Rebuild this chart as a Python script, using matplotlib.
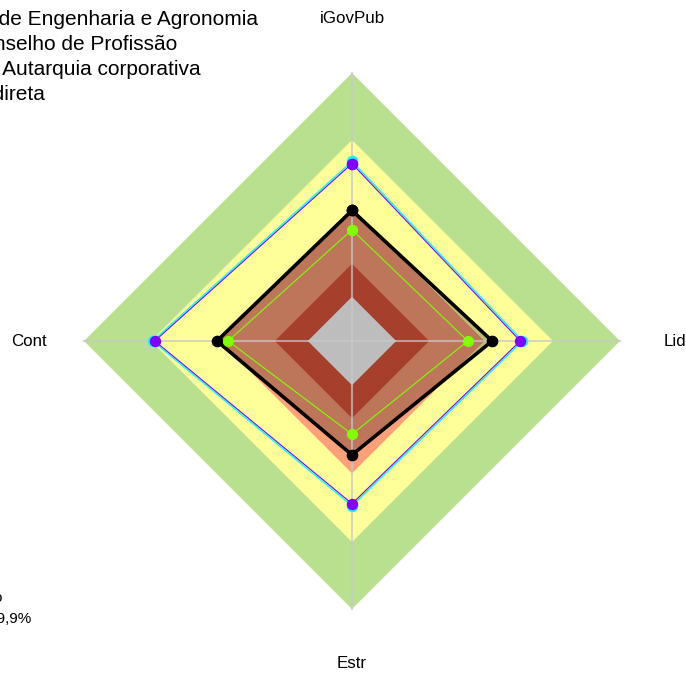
import numpy as np
import matplotlib
matplotlib.use("Agg")
import matplotlib.pyplot as plt

plt.rcParams['font.family'] = ['Liberation Sans', 'DejaVu Sans']

# ---- data ----
axes_labels = ["iGovPub", "Lid", "Estr", "Cont"]
band_edges = [0.165, 0.288, 0.494, 0.75, 1.0]
band_colors = ["#FFFFFF", "#E1553A", "#FFA07A", "#FFFF99", "#B8E08E"]

org_black = [0.487, 0.523, 0.425, 0.504]
org_green = [0.415, 0.432, 0.348, 0.462]
grp_cyan = [0.670, 0.636, 0.615, 0.744]
grp_purple = [0.662, 0.628, 0.607, 0.736]

title_lines = ["Conselho Federal de Engenharia e Agronomia",
               "Tipo: Conselho de Profissão",
               "Natureza:  Autarquia corporativa",
               "Administração Indireta"]
foot_lines = ["Desempenho", "Índice: 49,9%"]

# ---- geometry ----
W, H = 686, 675
cx, cy, R = 352, 341, 268
fig = plt.figure(figsize=(W / 100, H / 100), dpi=100)
ax = fig.add_axes([0, 0, 1, 1])
ax.set_xlim(-cx / R, (W - cx) / R)
ax.set_ylim(-(H - cy) / R, cy / R)
ax.axis("off")

n = len(axes_labels)
ang = np.pi / 2 - 2 * np.pi * np.arange(n) / n  # top, right, bottom, left


def xy(vals):
    v = np.asarray(vals, dtype=float)
    x = v * np.cos(ang)
    y = v * np.sin(ang)
    return np.append(x, x[0]), np.append(y, y[0])


# bands (outer first)
for edge, col in reversed(list(zip(band_edges, band_colors))):
    x, y = xy([edge] * n)
    ax.fill(x, y, color=col, lw=0, zorder=1)

# shaded overlay of main polygon
x, y = xy(org_black)
ax.fill(x, y, color="black", alpha=0.26, lw=0, zorder=2)

# spokes
for a in ang:
    ax.plot([0, np.cos(a)], [0, np.sin(a)], color="#C8C8C8", alpha=0.7,
            lw=1.5, zorder=3)

# series
x, y = xy(grp_cyan)
ax.plot(x, y, color="#00FFFF", lw=1.0, marker="o", ms=7.2, zorder=4)
x, y = xy(grp_purple)
ax.plot(x, y, color="#8000FF", lw=0.8, marker="o", ms=7.2, zorder=5)
x, y = xy(org_black)
ax.plot(x, y, color="black", lw=2.6, marker="o", ms=7.4, zorder=6)
x, y = xy(org_green)
ax.plot(x, y, color="#7FFF00", lw=0.8, marker="o", ms=7.0, zorder=7)

# axis labels
lr = 1.205
for lab, a in zip(axes_labels, ang):
    ax.text(lr * np.cos(a), lr * np.sin(a), lab, ha="center", va="center",
            fontsize=12.2, color="black")

# title lines (partially outside figure on the left)
title_right = [258, 177, 201, 45]
title_base = [25, 50, 75, 100]
for s, xr, yb in zip(title_lines, title_right, title_base):
    fig.text(xr / W, 1 - yb / H, s, ha="right", va="baseline",
             fontsize=15.0, color="black")

foot_right = [3, 31]
foot_base = [602, 623]
for s, xr, yb in zip(foot_lines, foot_right, foot_base):
    fig.text(xr / W, 1 - yb / H, s, ha="right", va="baseline",
             fontsize=11, color="black")

fig.savefig("out.png", dpi=100)
